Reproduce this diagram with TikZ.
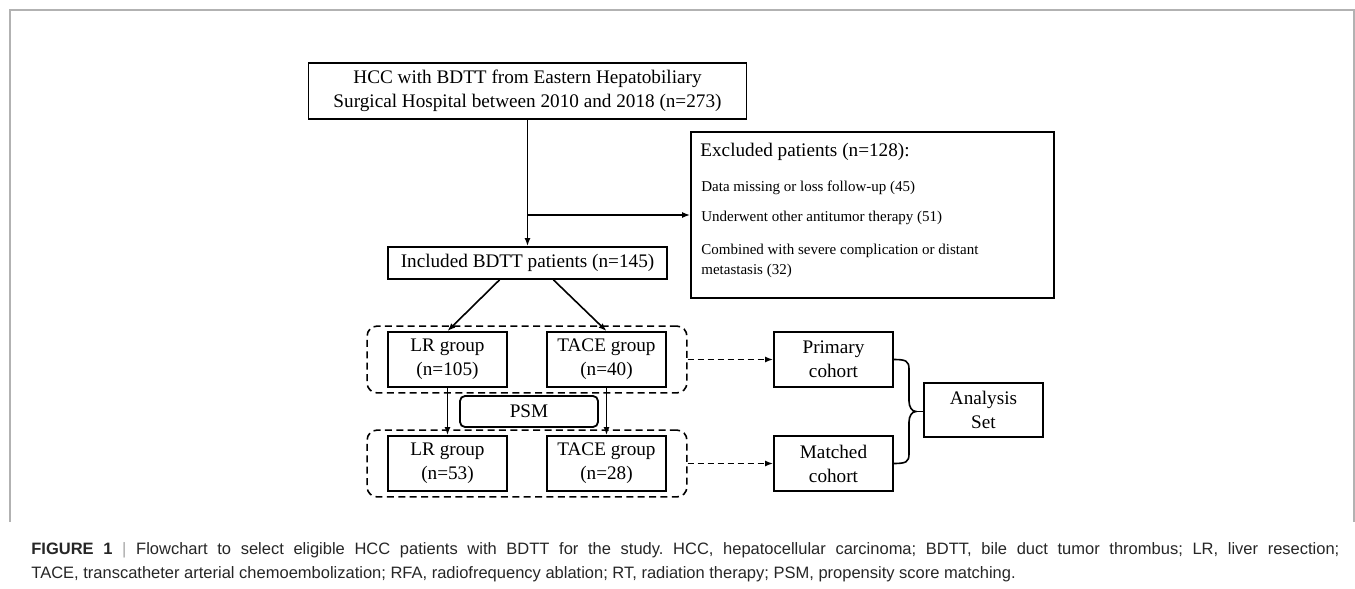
\documentclass[tikz,border=0pt]{standalone}
\usepackage{fontspec}
\setmainfont{Liberation Serif}
\newfontfamily\capfont{Liberation Sans}
\usepackage{tikz}
\usetikzlibrary{arrows.meta,fit,shapes}
\frenchspacing

\begin{document}
\begin{tikzpicture}[x=0.5bp,y=-0.5bp,
  box/.style={draw,line width=0.9bp,align=center,inner sep=0pt,font=\fontsize{9.6bp}{12bp}\selectfont},
  arr/.style={-{Latex[length=4bp,width=3bp]},line width=0.8bp},
  dasharr/.style={arr,dash pattern=on 3bp off 2bp},
  grp/.style={draw,dash pattern=on 3.5bp off 2.2bp,line width=0.8bp,rounded corners=5bp,inner xsep=10bp,inner ysep=2.5bp},
  item/.style={anchor=base west,inner sep=0pt,font=\fontsize{7.5bp}{9bp}\selectfont},
  captext/.style={anchor=base west,inner sep=0pt,text=black!85,font=\capfont\fontsize{8.25bp}{10bp}\selectfont}]
\useasboundingbox (0,0) rectangle (1355,589);
% frame
\draw[gray!60,line width=0.7bp] (10,522) -- (10,10) -- (1354,10) -- (1354,522);
% top part
\node (HCC) at (527.5,91) [box,minimum width=219bp,minimum height=28bp] {HCC with BDTT from Eastern Hepatobiliary\\Surgical Hospital between 2010 and 2018 (n=273)};
\node (INC) at (527.5,263) [box,minimum width=139.5bp,minimum height=16bp] {Included BDTT patients (n=145)};
\node (EXC) at (872.5,215) [box,minimum width=181.5bp,minimum height=83bp] {};
\node (EX0) at (700,157) [item,font=\fontsize{9.6bp}{12bp}\selectfont] {Excluded patients (n=128):};
\node (EX1) at (701,191.5) [item] {Data missing or loss follow-up (45)};
\node (EX2) at (701,221.5) [item] {Underwent other antitumor therapy (51)};
\node (EX3) at (701,254.5) [item] {Combined with severe complication or distant};
\node (EX4) at (701,274.5) [item] {metastasis (32)};
\coordinate (BR) at (527.5,215);
\draw[arr] (HCC) -- (INC);
\draw[arr] (BR) -- (BR -| EXC.west);
% groups
\node (LR1) at (447.5,359.5) [box,minimum width=59.5bp,minimum height=27.5bp] {LR group\\(n=105)};
\node (TACE1) at (606.5,359.5) [box,minimum width=59.5bp,minimum height=27.5bp] {TACE group\\(n=40)};
\node (LR2) at (447.5,463.5) [box,minimum width=59.5bp,minimum height=27.5bp] {LR group\\(n=53)};
\node (TACE2) at (606.5,463.5) [box,minimum width=59.5bp,minimum height=27.5bp] {TACE group\\(n=28)};
\node (G1) [grp,fit=(LR1)(TACE1)] {};
\node (G2) [grp,fit=(LR2)(TACE2)] {};
\node (PSM) at (529,411.5) [box,rounded corners=2.5bp,minimum width=69bp,minimum height=15.5bp] {PSM};
\draw[arr] ([xshift=-14bp]INC.south) -- (LR1.north);
\draw[arr] ([xshift=13bp]INC.south) -- (TACE1.north);
\draw[arr] (LR1) -- (LR2);
\draw[arr] (TACE1) -- (TACE2);
% cohorts
\node (PRIM) at (833.5,359.5) [box,minimum width=59.5bp,minimum height=27.5bp] {Primary\\cohort};
\node (MAT) at (833.5,463.5) [box,minimum width=59.5bp,minimum height=27.5bp] {Matched\\cohort};
\node (ANA) at (983.5,410) [box,minimum width=59.5bp,minimum height=27bp] {Analysis\\Set};
\draw[dasharr] (G1.east) -- (PRIM.west);
\draw[dasharr] (G2.east) -- (MAT.west);
\coordinate (CUSP) at (916,411.5);
\draw[line width=0.8bp] (PRIM.east) .. controls +(12,0) and +(0,-8) .. (909,369) -- (909,401)
  .. controls +(0,6) and +(-4,0) .. (CUSP) .. controls +(-4,0) and +(0,-6) .. (909,422)
  -- (909,454) .. controls +(0,8) and +(12,0) .. (MAT.east);
\draw[line width=0.8bp] (CUSP) -- (CUSP -| ANA.west);
% caption
\node (CAP1) at (31,554) [captext] {\makebox[654bp][s]{\textbf{FIGURE 1} {\color{gray!70}|} Flowchart to select eligible HCC patients with BDTT for the study. HCC, hepatocellular carcinoma; BDTT, bile duct tumor thrombus; LR, liver resection;}};
\node (CAP2) at (31,578) [captext] {TACE, transcatheter arterial chemoembolization; RFA, radiofrequency ablation; RT, radiation therapy; PSM, propensity score matching.};
\end{tikzpicture}
\end{document}
